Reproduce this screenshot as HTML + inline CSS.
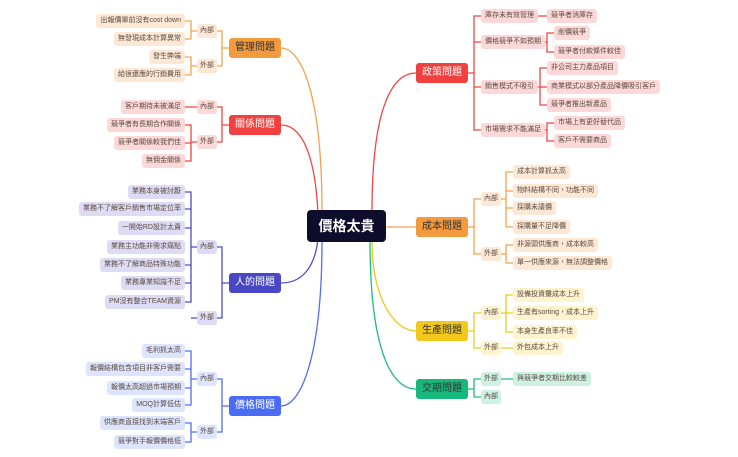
<!DOCTYPE html>
<html><head><meta charset="utf-8"><style>
body{margin:0;width:738px;height:457px;background:#fff;position:relative;overflow:hidden;font-family:"Liberation Sans","Noto Sans CJK TC",sans-serif}
svg{position:absolute;left:0;top:0}
.n{position:absolute;height:14px;line-height:14px;font-size:7px;padding:0 4px;border-radius:3px;color:#5a4a40;transform:translateY(-50%);white-space:nowrap}
.l{text-align:right}
.s{width:20px;padding:0;text-align:center}
.m{position:absolute;width:52px;height:20px;line-height:20px;font-size:10px;text-align:center;border-radius:3px;transform:translateY(-50%);color:#fff}
.o{background:#fde8d6}.r{background:#fdd8d8}.i{background:#dedcf4}.b{background:#dde4fd}.y{background:#fdf3cf}.g{background:#cdf1e2}
</style></head><body>
<svg width="738" height="457" fill="none" stroke-width="1.3">
<g stroke="#f5a24a"><path d="M322 212 C322 90 300 48 281 48"/><path d="M229 48H222M217 31H222V66H217M185 21H191V39H185M191 31H197M185 57H191V75H185M191 66H197"/>
<path d="M386 227H416M468 227H474M481 199H474V254H481M500 199H506M513 172H506V227H513M506 191H513M506 208H513M500 254H506M513 245H506V263H513"/></g>
<g stroke="#f04545"><path d="M318 214 C315 150 300 125 281 125"/><path d="M229 125H222M217 107H222V142H217M185 107H197M185 125H191V161H185M191 143H185M191 142H197"/>
<path d="M372 212 C372 100 395 73 416 73"/><path d="M468 73H474M481 16H474V130H481M474 42H481M474 87H481M533 16H547M540 42H547M554 33H547V52H554M533 87H540M547 68H540V105H547M540 87H547M540 130H547M554 123H547V141H554"/></g>
<g stroke="#4f4bc6"><path d="M318 238 C315 270 300 283 281 283"/><path d="M229 283H222M217 247H222V318H217M185 192H191V302H185M191 209H185M191 228H185M191 265H185M191 283H185M191 247H197M191 318H197"/></g>
<g stroke="#4f6ef5"><path d="M322 240 C322 360 300 406 281 406"/><path d="M229 406H222M217 379H222V432H217M185 351H191V405H185M191 369H185M191 388H185M191 379H197M185 423H191V442H185M191 432H197"/></g>
<g stroke="#f2c81c"><path d="M372 240 C372 300 395 331 416 331"/><path d="M468 331H474M481 313H474V348H481M500 313H506M513 295H506V332H513M506 313H513M500 348H513"/></g>
<g stroke="#1ebd80"><path d="M370 240 C370 360 395 389 416 389"/><path d="M468 389H474M481 379H474V397H481M500 379H513"/></g>
</svg>
<div style="position:absolute;left:307px;top:210px;width:79px;height:32px;line-height:32px;background:#0e0e2c;color:#fff;font-size:14px;font-weight:bold;text-align:center;border-radius:4px">價格太貴</div>

<div class="m" style="left:229px;top:48px;background:#f39a3e;color:#333">管理問題</div>
<div class="m" style="left:229px;top:125px;background:#f04040">關係問題</div>
<div class="m" style="left:229px;top:283px;background:#4a47c4">人的問題</div>
<div class="m" style="left:229px;top:406px;background:#4a6cf5">價格問題</div>
<div class="m" style="left:416px;top:73px;background:#f04040">政策問題</div>
<div class="m" style="left:416px;top:227px;background:#f39a3e;color:#333">成本問題</div>
<div class="m" style="left:416px;top:331px;background:#f2c81c;color:#333">生產問題</div>
<div class="m" style="left:416px;top:389px;background:#16b87c;color:#333">交期問題</div>

<div class="n s o" style="left:197px;top:31px">內部</div><div class="n s o" style="left:197px;top:66px">外部</div>
<div class="n l o" style="right:553px;top:21px">出報價單前沒有cost down</div>
<div class="n l o" style="right:553px;top:39px">無發現成本計算異常</div>
<div class="n l o" style="right:553px;top:57px">發生弊端</div>
<div class="n l o" style="right:553px;top:75px">給很還應的行銷費用</div>

<div class="n s r" style="left:197px;top:107px">內部</div><div class="n s r" style="left:197px;top:142px">外部</div>
<div class="n l r" style="right:553px;top:107px">客戶期待未被滿足</div>
<div class="n l r" style="right:553px;top:125px">競爭者有長期合作關係</div>
<div class="n l r" style="right:553px;top:143px">競爭者關係較我們佳</div>
<div class="n l r" style="right:553px;top:161px">無佣金關係</div>

<div class="n s i" style="left:197px;top:247px">內部</div><div class="n s i" style="left:197px;top:318px">外部</div>
<div class="n l i" style="right:553px;top:192px">業務本身被討厭</div>
<div class="n l i" style="right:553px;top:209px">業務不了解客戶銷售市場定位率</div>
<div class="n l i" style="right:553px;top:228px">一開始RD設計太貴</div>
<div class="n l i" style="right:553px;top:247px">業務主功能非需求痛點</div>
<div class="n l i" style="right:553px;top:265px">業務不了解商品特殊功能</div>
<div class="n l i" style="right:553px;top:283px">業務專業知識不足</div>
<div class="n l i" style="right:553px;top:302px">PM沒有整合TEAM資源</div>

<div class="n s b" style="left:197px;top:379px">內部</div><div class="n s b" style="left:197px;top:432px">外部</div>
<div class="n l b" style="right:553px;top:351px">毛利抓太高</div>
<div class="n l b" style="right:553px;top:369px">報價結構包含項目非客戶需要</div>
<div class="n l b" style="right:553px;top:388px">報價太高超過市場預期</div>
<div class="n l b" style="right:553px;top:405px">MOQ計算低估</div>
<div class="n l b" style="right:553px;top:423px">供應商直接找到末端客戶</div>
<div class="n l b" style="right:553px;top:442px">競爭對手報價價格低</div>

<div class="n r" style="left:481px;top:16px">庫存未有效管理</div>
<div class="n r" style="left:481px;top:42px">價格競爭不如預期</div>
<div class="n r" style="left:481px;top:87px">銷售模式不吸引</div>
<div class="n r" style="left:481px;top:130px">市場需求不能滿足</div>
<div class="n r" style="left:547px;top:16px">競爭者消庫存</div>
<div class="n r" style="left:554px;top:33px">削價競爭</div>
<div class="n r" style="left:554px;top:52px">競爭者付款條件較佳</div>
<div class="n r" style="left:547px;top:68px">非公司主力產品項目</div>
<div class="n r" style="left:547px;top:87px">商業模式以部分產品降價吸引客戶</div>
<div class="n r" style="left:547px;top:105px">競爭者推出新產品</div>
<div class="n r" style="left:554px;top:123px">市場上有更好替代品</div>
<div class="n r" style="left:554px;top:141px">客戶不需要商品</div>

<div class="n s o" style="left:481px;top:199px">內部</div><div class="n s o" style="left:481px;top:254px">外部</div>
<div class="n o" style="left:513px;top:172px">成本計算抓太高</div>
<div class="n o" style="left:513px;top:191px">物料結構不同，功能不同</div>
<div class="n o" style="left:513px;top:208px">採購未議價</div>
<div class="n o" style="left:513px;top:227px">採購量不足降價</div>
<div class="n o" style="left:513px;top:245px">非源頭供應商，成本較高</div>
<div class="n o" style="left:513px;top:263px">單一供應來源，無法調整價格</div>

<div class="n s y" style="left:481px;top:313px">內部</div><div class="n s y" style="left:481px;top:348px">外部</div>
<div class="n y" style="left:513px;top:295px">設備投資攤成本上升</div>
<div class="n y" style="left:513px;top:313px">生產有sorting，成本上升</div>
<div class="n y" style="left:513px;top:332px">本身生產良率不佳</div>
<div class="n y" style="left:513px;top:348px">外包成本上升</div>

<div class="n s g" style="left:481px;top:379px">外部</div><div class="n s g" style="left:481px;top:397px">內部</div>
<div class="n g" style="left:513px;top:379px">與競爭者交期比較較差</div>
</body></html>
